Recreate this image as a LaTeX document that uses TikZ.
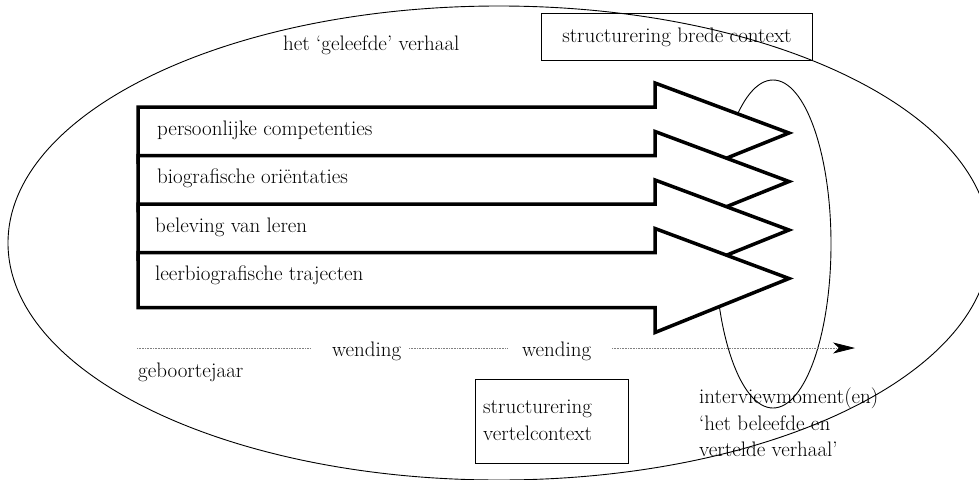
\documentclass[tikz,border=0pt]{standalone}
\usepackage{fontspec}
\usetikzlibrary{arrows.meta}
\begin{document}
\begin{tikzpicture}[x=1pt,y=-1pt,
  txt/.style={font=\fontsize{21}{27}\selectfont, inner sep=0pt},
  blk/.style={line width=3.5pt, fill=white, line join=miter},
  thinline/.style={line width=0.9pt},
  dots/.style={gray, line width=0.7pt, dash pattern=on 0.7pt off 0.9pt},
  boxed/.style={draw, thinline, inner sep=0pt, font=\fontsize{21}{27}\selectfont}]
\useasboundingbox (0,0) rectangle (979,479);
% interview moment ellipse (behind arrows)
\draw[thinline] (773,244) ellipse [x radius=58pt, y radius=164pt];
% block arrows
\foreach \y in {133,181.5,230,278.5}{
  \draw[blk] (138,\y-26) -- (655,\y-26) -- (655,\y-50) -- (789,\y) -- (655,\y+54) -- (655,\y+29) -- (138,\y+29) -- cycle;
}
\node[txt, anchor=base west] (a1) at (157,135) {persoonlijke competenties};
\node[txt, anchor=base west] (a2) at (157,183.5) {biografische oriëntaties};
\node[txt, anchor=base west] (a3) at (155,232) {beleving van leren};
\node[txt, anchor=base west] (a4) at (155,280.5) {leerbiografische trajecten};
% time line
\node[txt, anchor=base west] (w1) at (332,356) {wending};
\node[txt, anchor=base west] (w2) at (522,356) {wending};
\coordinate (d1) at (137,348);
\coordinate (d2) at (310,348);
\coordinate (d3) at (409,348);
\coordinate (d4) at (507,348);
\coordinate (d5) at (612,348);
\coordinate (d6) at (855,348);
\draw[dots] (d1) -- (d2);
\draw[dots] (d3) -- (d4);
\draw[dots, -{Stealth[length=22pt,width=11pt,inset=6pt,black]}] (d5) -- (d6);
\node[txt, anchor=base west] (geb) at (138,377) {geboortejaar};
% other texts
\node[txt, anchor=base west] (story) at (283,50) {het ‘geleefde’ verhaal};
\node[boxed, minimum width=271pt, minimum height=47pt, anchor=north west] (brede) at (541,13) {structurering brede context};
\node[boxed, minimum width=153pt, minimum height=84pt, anchor=north west] (vert) at (475,379) {};
\node[txt, anchor=base west, align=left] (vt1) at (483,413) {structurering};
\node[txt, anchor=base west] (vt2) at (483,440) {vertelcontext};
\node[txt, anchor=base west] (iv1) at (699,403) {interviewmoment(en)};
\node[txt, anchor=base west] (iv2) at (699,430) {‘het beleefde en};
\node[txt, anchor=base west] (iv3) at (699,456) {vertelde verhaal’};
% big ellipse
\draw[thinline] (499,243) ellipse [x radius=491pt, y radius=237pt];
\end{tikzpicture}
\end{document}
